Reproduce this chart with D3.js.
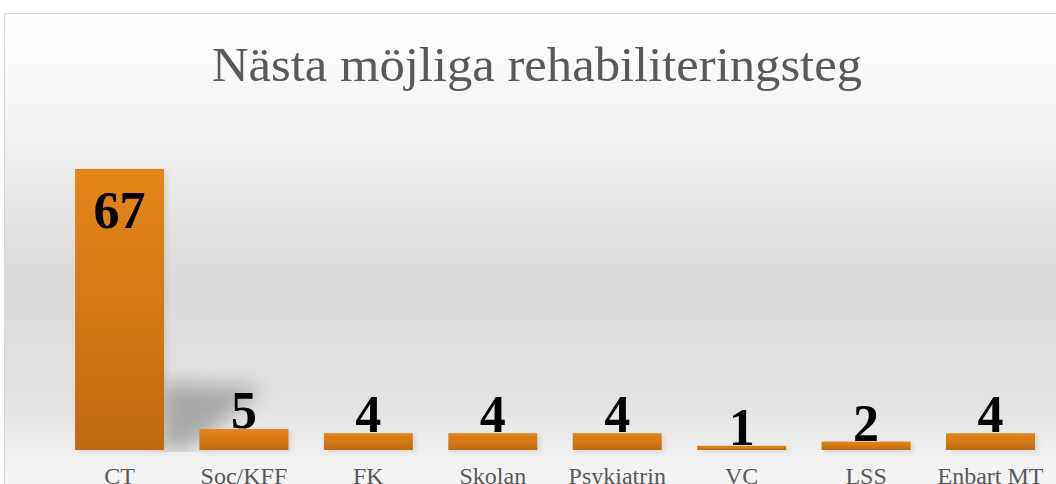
<!DOCTYPE html>
<html>
<head>
<meta charset="utf-8">
<script src="https://cdn.jsdelivr.net/npm/d3@7"></script>
<style>
  body { margin: 0; background: #fff; }
  svg { display: block; }
</style>
</head>
<body>
<div id="chart"></div>
<script>
// data
const categories = ["CT", "Soc/KFF", "FK", "Skolan", "Psykiatrin", "VC", "LSS", "Enbart MT"];
const values = [67, 5, 4, 4, 4, 1, 2, 4];
const titleText = "Nästa möjliga rehabiliteringsteg";

const W = 1056, H = 484;
const margin = {l: 57, r: 3};

const svg = d3.select("#chart").append("svg")
    .attr("width", W)
    .attr("height", H);

const defs = svg.append("defs");

// chart background: white -> gray -> white
const bg = defs.append("linearGradient")
    .attr("id", "bg").attr("x1", 0).attr("y1", 0).attr("x2", 0).attr("y2", 1);
bg.append("stop").attr("offset", "0%").attr("stop-color", "#ffffff");
bg.append("stop").attr("offset", "18%").attr("stop-color", "#f6f6f6");
bg.append("stop").attr("offset", "55%").attr("stop-color", "#d9d9d9");
bg.append("stop").attr("offset", "80%").attr("stop-color", "#e4e4e4");
bg.append("stop").attr("offset", "100%").attr("stop-color", "#fbfbfb");

// bar fill
const barGrad = defs.append("linearGradient")
    .attr("id", "bar").attr("x1", 0).attr("y1", 0).attr("x2", 0).attr("y2", 1);
barGrad.append("stop").attr("offset", "0%").attr("stop-color", "#e5851a");
barGrad.append("stop").attr("offset", "100%").attr("stop-color", "#bf6b10");

const blur = defs.append("filter").attr("id", "blur")
    .attr("x", "-50%").attr("y", "-50%").attr("width", "200%").attr("height", "200%");
blur.append("feGaussianBlur").attr("stdDeviation", 10);

const smallBlur = defs.append("filter").attr("id", "sblur")
    .attr("x", "-20%").attr("y", "-50%").attr("width", "140%").attr("height", "200%");
smallBlur.append("feGaussianBlur").attr("stdDeviation", 2);

const clip = defs.append("clipPath").attr("id", "floor");
clip.append("rect").attr("x", 0).attr("y", 0).attr("width", W).attr("height", 452);

// chart area with border
svg.append("rect")
    .attr("x", 4.5).attr("y", 13.5)
    .attr("width", W + 10).attr("height", H + 10)
    .attr("fill", "url(#bg)")
    .attr("stroke", "#d9d9d9");

// title
svg.append("text")
    .attr("x", 537)
    .attr("y", 81)
    .attr("text-anchor", "middle")
    .attr("font-family", "Liberation Serif, serif")
    .attr("font-size", 48)
    .attr("fill", "#595959")
    .attr("textLength", 650)
    .attr("lengthAdjust", "spacingAndGlyphs")
    .text(titleText);

const x = d3.scaleBand()
    .domain(categories)
    .range([margin.l, W - margin.r])
    .paddingInner(0.285)
    .paddingOuter(0.145);

const y = d3.scaleLinear()
    .domain([0, d3.max(values)])
    .range([450, 169]);

const g = svg.append("g");

// cast shadow behind the tallest bar
const big = categories[0];
g.append("g").attr("clip-path", "url(#floor)")
  .append("path")
    .attr("d", d3.line()([
        [x(big) + x.bandwidth() - 4, y(0)],
        [x(big) + x.bandwidth() - 4, y(16)],
        [x(big) + x.bandwidth() + 100, y(15)],
        [x(big) + x.bandwidth() + 25, y(0)]
    ]) + "Z")
    .attr("fill", "#8f8f8f")
    .attr("opacity", 0.7)
    .attr("filter", "url(#blur)");

// soft shadow under bars
g.selectAll(".shadow")
    .data(values)
    .enter()
    .append("rect")
    .attr("class", "shadow")
    .attr("x", (d, i) => x(categories[i]) + 3)
    .attr("y", d => y(d) + 2)
    .attr("width", x.bandwidth())
    .attr("height", d => y(0) - y(d))
    .attr("fill", "#aaaaaa")
    .attr("opacity", 0.3)
    .attr("filter", "url(#sblur)");

g.selectAll(".bar")
    .data(values)
    .enter()
    .append("rect")
    .attr("class", "bar")
    .attr("x", (d, i) => x(categories[i]))
    .attr("y", d => y(d))
    .attr("width", x.bandwidth())
    .attr("height", d => y(0) - y(d))
    .attr("fill", "url(#bar)");

// value labels: inside end for the tall bar, outside end for the rest
g.selectAll(".val")
    .data(values)
    .enter()
    .append("text")
    .attr("class", "val")
    .attr("x", (d, i) => x(categories[i]) + x.bandwidth() / 2)
    .attr("y", (d, i) => i === 0 ? y(d) + 59 : y(d) - 1)
    .attr("text-anchor", "middle")
    .attr("font-family", "Liberation Serif, serif")
    .attr("font-weight", "bold")
    .attr("font-size", 52)
    .attr("fill", "#000")
    .text(d => d);

// category axis
const axis = g.append("g")
    .attr("transform", `translate(0,${y(0)})`)
    .call(d3.axisBottom(x).tickSize(0).tickPadding(17));
axis.select(".domain").remove();
axis.selectAll("text")
    .attr("font-family", "Liberation Serif, serif")
    .attr("font-size", 24)
    .attr("fill", "#595959");
</script>
</body>
</html>
